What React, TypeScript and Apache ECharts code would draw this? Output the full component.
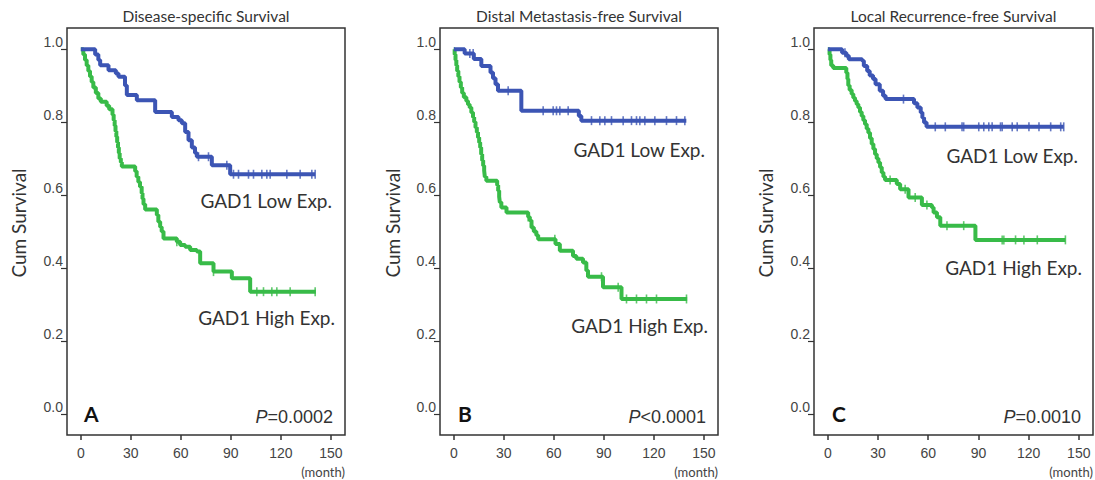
import React, { useEffect, useRef } from "react";
import * as echarts from "echarts";

// ---------- Data (months, cumulative survival) ----------
const xTicks = [0, 30, 60, 90, 120, 150];
const yTicks = [0, 0.2, 0.4, 0.6, 0.8, 1.0];

const titles = ["Disease-specific Survival", "Distal Metastasis-free Survival", "Local Recurrence-free Survival"];
const panelLetters = ["A", "B", "C"];
const pSymbols = ["=", "<", "="];
const pValues = ["0.0002", "0.0001", "0.0010"];
const lowLabel = "GAD1 Low Exp.";
const highLabel = "GAD1 High Exp.";

const lowA = [[0,1],[8.6,0.985],[10.5,0.97],[11.6,0.956],[16.6,0.942],[21,0.933],[22.6,0.924],[26.5,0.9],[27.6,0.874],[33.6,0.86],[44.6,0.828],[54.6,0.814],[58.6,0.805],[60.6,0.797],[62.6,0.773],[64.6,0.75],[66.6,0.73],[68.5,0.715],[69.6,0.705],[78.6,0.682],[89.6,0.657],[140.6,0.657]];
const highA = [[0,1],[1.5,0.985],[2.5,0.97],[3.5,0.955],[4.5,0.94],[5.5,0.925],[6.5,0.91],[7.5,0.895],[9,0.88],[10.5,0.865],[12,0.856],[15.5,0.845],[17,0.835],[19,0.82],[19.7,0.805],[20.3,0.79],[20.8,0.775],[21.3,0.76],[21.8,0.745],[22.3,0.73],[22.8,0.715],[23.3,0.7],[24,0.69],[24.6,0.678],[32.6,0.665],[33.5,0.65],[34.5,0.636],[35.5,0.623],[36.5,0.605],[37,0.59],[37.6,0.575],[38.6,0.56],[45.6,0.545],[46.5,0.527],[47.6,0.512],[48.5,0.5],[49.6,0.481],[57.6,0.472],[59.6,0.463],[62.6,0.458],[65.6,0.449],[69.6,0.445],[71.6,0.413],[79.6,0.39],[90.6,0.372],[101.6,0.335],[141,0.335]];
const lowACens = [70.6, 76.6, 87.6, 91.6, 94.6, 100.6, 103.6, 108.6, 111.6, 113.6, 123.6, 131.6, 138.6, 140.6];
const highACens = [57.6, 79.6, 105.6, 109.6, 114.6, 117.6, 125.6, 140.6];

const lowB = [[0,1],[6.5,0.988],[12,0.973],[16.5,0.954],[22,0.936],[23.5,0.92],[25,0.904],[26.5,0.886],[40.5,0.831],[75,0.817],[76.5,0.804],[139.5,0.804]];
const highB = [[0,1],[0.5,0.985],[1,0.97],[1.5,0.955],[2,0.94],[2.7,0.925],[3.4,0.91],[4.2,0.895],[5,0.88],[6,0.868],[7.5,0.858],[8.5,0.848],[9.5,0.84],[10.5,0.826],[11.5,0.813],[12.2,0.8],[13,0.785],[13.8,0.772],[14.5,0.758],[15.2,0.744],[15.8,0.73],[16.4,0.712],[17,0.695],[17.6,0.68],[18.2,0.667],[18.6,0.65],[19.5,0.639],[26,0.627],[26.6,0.612],[27.2,0.595],[27.6,0.58],[28.5,0.566],[31.6,0.552],[44.6,0.54],[45.6,0.53],[46.6,0.511],[48,0.5],[49.5,0.49],[50.6,0.479],[61,0.466],[63.6,0.447],[71.5,0.433],[73.5,0.425],[77.5,0.415],[79.5,0.393],[80.5,0.376],[89.5,0.347],[100.6,0.315],[140,0.315]];
const lowBCens = [9.6, 11.6, 32.6, 53.6, 59.6, 61.6, 63.6, 68.6, 82.6, 87.6, 90.6, 94.6, 101.6, 106.6, 109.6, 111.6, 114.6, 120.6, 127.6, 133.6, 138.6];
const highBCens = [44.6, 60.6, 88.6, 98.6, 103.6, 109.6, 115.6, 121.6, 139.6];

const lowC = [[0,1],[8.5,0.99],[11,0.982],[12.5,0.972],[20.5,0.968],[21.5,0.954],[23.5,0.94],[25,0.928],[27,0.918],[28.5,0.904],[31,0.886],[33,0.872],[34.5,0.863],[51.5,0.852],[53.5,0.84],[55.5,0.826],[56.5,0.812],[57.5,0.799],[59,0.787],[141,0.787]];
const highC = [[0,1],[1,0.985],[1.5,0.97],[2,0.955],[3.2,0.948],[11,0.935],[11.7,0.918],[12.2,0.9],[13,0.888],[14.2,0.877],[15.2,0.867],[16.2,0.858],[17.2,0.849],[18.2,0.84],[19.2,0.828],[20.2,0.817],[21.2,0.805],[22.2,0.794],[23.2,0.782],[24.2,0.771],[25.2,0.756],[26.2,0.74],[27.2,0.726],[28.2,0.712],[29.2,0.7],[30.2,0.689],[31.2,0.676],[32.2,0.662],[33.2,0.65],[34.2,0.641],[41.2,0.63],[43.2,0.616],[48.2,0.593],[56.2,0.573],[62.2,0.566],[63.2,0.552],[65.2,0.539],[67.2,0.516],[88.2,0.477],[142,0.477]];
const lowCCens = [10.2, 45.2, 64.2, 70.2, 80.2, 81.2, 90.2, 93.2, 96.2, 98.2, 103.2, 104.2, 110.2, 113.2, 120.2, 126.2, 133.2, 139.2, 141];
const highCCens = [37.2, 46.2, 52.2, 59.2, 71.2, 81.2, 104.2, 105.2, 112.2, 117.2, 125.2, 142];

const lowCurves = [lowA, lowB, lowC];
const highCurves = [highA, highB, highC];
const lowCens = [lowACens, lowBCens, lowCCens];
const highCens = [highACens, highBCens, highCCens];

// ---------- Layout ----------
const BLUE = "#3c55b4";
const GREEN = "#38bb48";
const TEXT = "#333333";
const TOP = 28;
const HEIGHT = 407;
const lefts = [67, 440, 814];
const widths = [278, 278, 279];
const lowLabelPos = [[332, 200], [705, 149], [1078, 155]];
const highLabelPos = [[335, 317], [708, 325], [1082, 267]];
const cumX = [18, 392, 765];
const letterX = [84, 458, 832];

function valueAt(curve: number[][], t: number) {
  let v = curve[0][1];
  for (const p of curve) {
    if (p[0] <= t) v = p[1];
  }
  return v;
}

export default function App() {
  const ref = useRef<HTMLDivElement>(null);
  useEffect(() => {
    if (!ref.current) return;
    const chart = echarts.init(ref.current, undefined, { renderer: "svg" });
    const grid: any[] = [];
    const xAxis: any[] = [];
    const yAxis: any[] = [];
    const series: any[] = [];
    const graphic: any[] = [];
    for (let i = 0; i < 3; i++) {
      grid.push({
        left: lefts[i], top: TOP, width: widths[i], height: HEIGHT,
        show: true, borderColor: "#333", borderWidth: 1.5, backgroundColor: "#fff",
      });
      xAxis.push({
        type: "value", gridIndex: i, min: -8.3, max: 158.5,
        axisLine: { show: false, onZero: false },
        splitLine: { show: false },
        axisTick: { show: true, length: 5, customValues: xTicks, lineStyle: { color: "#333", width: 1.5 } },
        axisLabel: { customValues: xTicks, margin: 11, fontSize: 14, color: "#444", fontFamily: "Liberation Sans" },
      });
      yAxis.push({
        type: "value", gridIndex: i, min: -0.058, max: 1.058,
        axisLine: { show: false, onZero: false },
        splitLine: { show: false },
        axisTick: { show: true, length: 6, customValues: yTicks, lineStyle: { color: "#333", width: 1.2 } },
        axisLabel: {
          customValues: yTicks, margin: 4, fontSize: 14, color: "#444", fontFamily: "Liberation Sans",
          verticalAlign: "bottom", formatter: (v: number) => v.toFixed(1),
        },
      });
      const mk = (data: number[][], color: string) => ({
        type: "line", xAxisIndex: i, yAxisIndex: i, data, step: "end", showSymbol: false,
        lineStyle: { color, width: 4 }, silent: true,
      });
      series.push(mk(highCurves[i], GREEN));
      series.push(mk(lowCurves[i], BLUE));
      const cens = (curve: number[][], ts: number[], color: string) => ({
        type: "scatter", xAxisIndex: i, yAxisIndex: i,
        data: ts.map((t) => [t, valueAt(curve, t)]),
        symbol: "rect", symbolSize: [1.6, 9], itemStyle: { color }, silent: true,
      });
      series.push(cens(highCurves[i], highCens[i], GREEN));
      series.push(cens(lowCurves[i], lowCens[i], BLUE));

      const cx = lefts[i] + widths[i] / 2;
      const right = lefts[i] + widths[i];
      graphic.push({
        type: "text", x: cx, y: 16,
        style: { text: titles[i], font: "15.5px Lato", fill: TEXT, align: "center", verticalAlign: "middle" },
      });
      graphic.push({
        type: "text", x: cumX[i], y: 223, rotation: Math.PI / 2,
        style: { text: "Cum Survival", font: "19px Lato", fill: TEXT, align: "center", verticalAlign: "middle" },
      });
      graphic.push({
        type: "text", x: lowLabelPos[i][0], y: lowLabelPos[i][1],
        style: { text: lowLabel, font: "19px Lato", fill: TEXT, align: "right", verticalAlign: "middle" },
      });
      graphic.push({
        type: "text", x: highLabelPos[i][0], y: highLabelPos[i][1],
        style: { text: highLabel, font: "19px Lato", fill: TEXT, align: "right", verticalAlign: "middle" },
      });
      graphic.push({
        type: "text", x: letterX[i], y: 413,
        style: { text: panelLetters[i], font: "bold 21px Lato", fill: "#111", align: "left", verticalAlign: "middle" },
      });
      graphic.push({
        type: "text", x: right - 12, y: 417,
        style: {
          text: "{i|P}{n|" + pSymbols[i] + pValues[i] + "}",
          align: "right", verticalAlign: "middle",
          rich: {
            i: { font: "italic 18px Liberation Sans", fill: TEXT },
            n: { font: "18px Liberation Sans", fill: TEXT },
          },
        },
      });
      graphic.push({
        type: "text", x: right, y: 472,
        style: { text: "(month)", font: "13px Lato", fill: "#444", align: "right", verticalAlign: "middle" },
      });
    }
    chart.setOption({
      animation: false,
      backgroundColor: "#fff",
      grid, xAxis, yAxis, series, graphic,
    });
    return () => chart.dispose();
  }, []);
  return (
    <div
      ref={ref}
      style={{ position: "absolute", left: 0, top: 0, width: 1095, height: 480, background: "#fff" }}
    />
  );
}
